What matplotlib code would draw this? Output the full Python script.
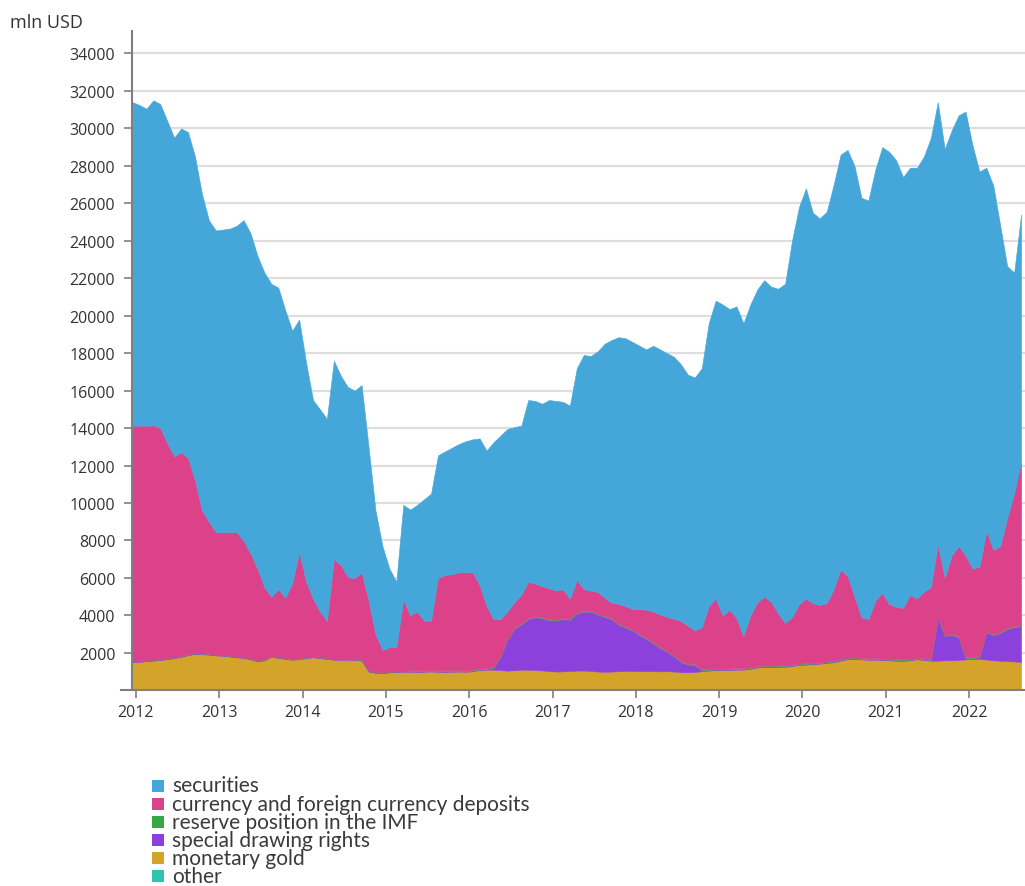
import numpy as np
import pandas as pd
import matplotlib
matplotlib.use("Agg")
import matplotlib.pyplot as plt
from matplotlib.patches import Rectangle
import matplotlib.transforms as mtransforms

# ---------------- data (thousand mln USD, monthly Dec 2011 .. Aug 2022) ----------------
months = pd.period_range("2011-12", "2022-08", freq="M")

# upper edge of the whole stack (= total reserves)
total_level = [
    31.40, 31.25, 31.05, 31.50, 31.30, 30.40, 29.50, 30.00, 29.80, 28.50,
    26.50, 25.10, 24.55, 24.60, 24.65, 24.80, 25.10, 24.40, 23.20, 22.30,
    21.70, 21.50, 20.30, 19.20, 19.80, 17.50, 15.50, 15.00, 14.50, 17.60,
    16.80, 16.20, 16.00, 16.30, 13.00, 9.60, 7.70, 6.50, 5.80, 9.90,
    9.65, 9.90, 10.20, 10.50, 12.55, 12.75, 12.95, 13.15, 13.30, 13.40,
    13.45, 12.80, 13.25, 13.60, 13.95, 14.05, 14.13, 15.50, 15.45, 15.30,
    15.50, 15.45, 15.40, 15.20, 17.20, 17.90, 17.85, 18.10, 18.50, 18.70,
    18.85, 18.80, 18.60, 18.40, 18.20, 18.40, 18.20, 18.00, 17.80, 17.40,
    16.85, 16.70, 17.20, 19.60, 20.80, 20.60, 20.35, 20.50, 19.60, 20.60,
    21.40, 21.90, 21.55, 21.44, 21.70, 24.00, 25.80, 26.80, 25.50, 25.20,
    25.55, 27.00, 28.60, 28.85, 28.00, 26.30, 26.15, 27.80, 29.00, 28.75,
    28.30, 27.40, 27.90, 27.90, 28.50, 29.50, 31.40, 28.90, 29.90, 30.70,
    30.90, 29.10, 27.70, 27.90, 26.95, 24.80, 22.65, 22.30, 25.40,
]

# upper edge of the currency and deposits band
currency_level = [
    14.13, 14.13, 14.13, 14.15, 14.00, 13.20, 12.50, 12.70, 12.40, 11.20,
    9.60, 9.00, 8.44, 8.44, 8.44, 8.44, 8.00, 7.30, 6.50, 5.50,
    5.00, 5.40, 4.95, 5.70, 7.40, 5.80, 4.90, 4.20, 3.70, 7.00,
    6.70, 6.05, 5.98, 6.30, 4.80, 3.00, 2.15, 2.30, 2.30, 4.85,
    4.00, 4.20, 3.72, 3.72, 6.00, 6.15, 6.20, 6.30, 6.30, 6.30,
    5.60, 4.50, 3.80, 3.80, 4.20, 4.70, 5.10, 5.80, 5.70, 5.55,
    5.45, 5.32, 5.40, 4.88, 5.90, 5.40, 5.32, 5.25, 4.95, 4.68,
    4.62, 4.50, 4.34, 4.34, 4.30, 4.20, 4.05, 3.92, 3.82, 3.70,
    3.45, 3.20, 3.37, 4.50, 4.90, 4.00, 4.30, 3.85, 2.90, 4.00,
    4.70, 5.00, 4.72, 4.10, 3.60, 3.90, 4.60, 4.90, 4.65, 4.55,
    4.65, 5.40, 6.45, 6.10, 5.00, 3.90, 3.80, 4.80, 5.20, 4.60,
    4.45, 4.40, 5.10, 4.90, 5.27, 5.50, 7.80, 6.00, 7.20, 7.70,
    7.20, 6.50, 6.60, 8.50, 7.50, 7.70, 9.20, 10.50, 12.20,
]

monetary_gold = [
    1.50, 1.52, 1.55, 1.58, 1.62, 1.66, 1.72, 1.78, 1.88, 1.94,
    1.93, 1.90, 1.86, 1.84, 1.80, 1.76, 1.72, 1.65, 1.55, 1.60,
    1.80, 1.72, 1.68, 1.63, 1.66, 1.72, 1.76, 1.72, 1.67, 1.63,
    1.63, 1.63, 1.62, 1.58, 1.00, 0.93, 0.92, 0.95, 0.98, 0.99,
    0.99, 0.98, 0.99, 1.00, 0.99, 0.98, 0.99, 1.00, 0.99, 1.02,
    1.08, 1.10, 1.10, 1.08, 1.05, 1.07, 1.10, 1.10, 1.08, 1.06,
    1.03, 1.00, 1.01, 1.03, 1.05, 1.05, 1.03, 1.00, 0.99, 1.00,
    1.02, 1.03, 1.03, 1.02, 1.02, 1.02, 1.01, 1.02, 1.00, 0.97,
    0.96, 0.98, 1.02, 1.05, 1.08, 1.08, 1.09, 1.10, 1.10, 1.15,
    1.22, 1.24, 1.24, 1.25, 1.26, 1.30, 1.35, 1.37, 1.40, 1.42,
    1.46, 1.50, 1.58, 1.66, 1.67, 1.65, 1.63, 1.63, 1.62, 1.60,
    1.58, 1.57, 1.60, 1.66, 1.62, 1.58, 1.58, 1.60, 1.60, 1.62,
    1.65, 1.67, 1.67, 1.64, 1.60, 1.58, 1.56, 1.54, 1.52,
]

special_drawing_rights = [
    0.03, 0.03, 0.03, 0.03, 0.03, 0.03, 0.03, 0.03, 0.03, 0.03,
    0.03, 0.03, 0.03, 0.03, 0.03, 0.03, 0.03, 0.03, 0.03, 0.03,
    0.03, 0.03, 0.03, 0.03, 0.03, 0.03, 0.03, 0.03, 0.03, 0.03,
    0.03, 0.03, 0.03, 0.03, 0.03, 0.03, 0.03, 0.03, 0.03, 0.03,
    0.03, 0.03, 0.03, 0.03, 0.03, 0.03, 0.03, 0.03, 0.03, 0.03,
    0.03, 0.03, 0.10, 0.70, 1.65, 2.20, 2.42, 2.70, 2.82, 2.79,
    2.72, 2.72, 2.79, 2.74, 3.05, 3.15, 3.17, 3.05, 2.93, 2.80,
    2.48, 2.32, 2.17, 1.93, 1.73, 1.48, 1.24, 1.03, 0.80, 0.53,
    0.42, 0.37, 0.06, 0.03, 0.03, 0.03, 0.03, 0.03, 0.03, 0.03,
    0.03, 0.03, 0.03, 0.03, 0.03, 0.03, 0.03, 0.03, 0.03, 0.03,
    0.03, 0.03, 0.03, 0.03, 0.03, 0.03, 0.03, 0.03, 0.03, 0.03,
    0.03, 0.03, 0.03, 0.03, 0.03, 0.03, 2.30, 1.30, 1.35, 1.20,
    0.07, 0.05, 0.10, 1.46, 1.35, 1.47, 1.71, 1.84, 1.90,
]

reserve_position_imf = [0.02] * 40 + [0.05] * 89
other = [0.0] * 129

series_labels = ["securities", "currency and foreign currency deposits",
                 "reserve position in the IMF", "special drawing rights",
                 "monetary gold", "other"]
series_colors = ["#45A7D9", "#DC428A", "#35A845", "#8C41DC", "#D4A42A", "#2EC4B0"]
year_ticks = list(range(2012, 2023))
y_ticks = list(range(2000, 34001, 2000))

# ---------------- derived stack components (mln USD) ----------------
tot = np.array(total_level) * 1000
cur_top = np.array(currency_level) * 1000
gold_v = np.array(monetary_gold) * 1000
sdr_v = np.array(special_drawing_rights) * 1000
res_v = np.array(reserve_position_imf) * 1000
oth_v = np.array(other) * 1000
cur_v = cur_top - (oth_v + gold_v + sdr_v + res_v)
sec_v = tot - cur_top

x = np.array([p.year + (p.month - 0.5) / 12 for p in months])

# ---------------- figure ----------------
W, H = 1025, 887
fig = plt.figure(figsize=(W / 100, H / 100), dpi=100)
ax = fig.add_axes([132 / W, 1 - 691.3 / H, (W - 132) / W, (691.3 - 32) / H])

stack_vals = [oth_v, gold_v, sdr_v, res_v, cur_v, sec_v]
stack_cols = [series_colors[5], series_colors[4], series_colors[3],
              "#5E9A66", series_colors[1], series_colors[0]]
polys = ax.stackplot(x, *stack_vals, colors=stack_cols, linewidth=0.4)
for p, c in zip(polys, stack_cols):
    p.set_edgecolor(c)

ax.set_xlim(2011.952, 2022.672)
ax.set_ylim(0, 35200)

tick_font = "Open Sans"
ax.set_yticks(y_ticks)
ax.set_yticklabels([str(v) for v in y_ticks], fontsize=11.5, color="#333333",
                   family=tick_font)
ax.set_xticks(year_ticks)
ax.set_xticklabels([str(v) for v in year_ticks], fontsize=11.5, color="#333333",
                   family=tick_font)
off = mtransforms.ScaledTranslation(0.10, 0, fig.dpi_scale_trans)
for lab in ax.get_xticklabels():
    lab.set_transform(lab.get_transform() + off)

ax.tick_params(axis="both", direction="out", length=6, width=1.2, color="#7f7f7f")
ax.tick_params(axis="y", pad=6)
ax.tick_params(axis="x", pad=4)

ax.grid(axis="y", color="#dedede", linewidth=1.6)
ax.grid(axis="x", visible=False)
ax.set_axisbelow(True)

for s in ["top", "right"]:
    ax.spines[s].set_visible(False)
for s in ["left", "bottom"]:
    ax.spines[s].set_color("#7f7f7f")
    ax.spines[s].set_linewidth(1.5)
# small outer extension of the x axis line to the left
ax.plot([-0.012, 0], [0, 0], transform=ax.transAxes, clip_on=False,
        color="#7f7f7f", linewidth=1.5)

fig.text(10 / W, 1 - 23 / H, "mln USD", fontsize=13, color="#333333",
         family=tick_font, va="center", ha="left")

# ---------------- legend ----------------
row0 = 786.5
step = 18.1
for k, (lab, col) in enumerate(zip(series_labels, series_colors)):
    cy = row0 + k * step
    fig.add_artist(Rectangle((151.5 / W, 1 - (cy + 6) / H), 12 / W, 12 / H,
                             transform=fig.transFigure, facecolor=col,
                             edgecolor="none"))
    fig.text(172 / W, 1 - cy / H, lab, fontsize=15, color="#3a3a3a",
             family="Lato", va="center", ha="left")

fig.savefig("out.png", dpi=100, facecolor="white")
